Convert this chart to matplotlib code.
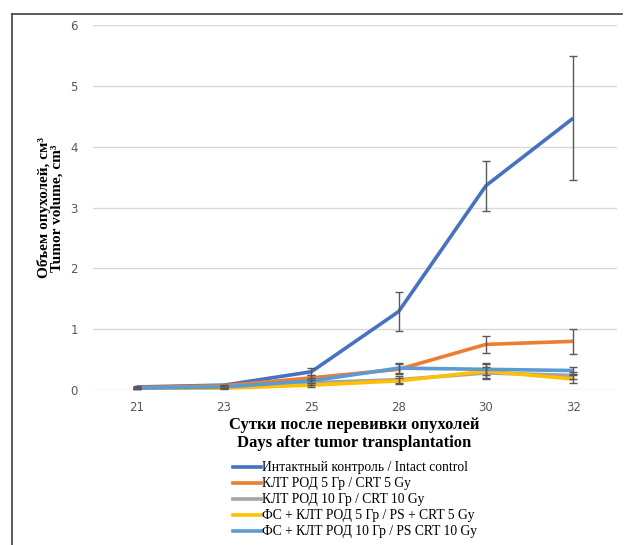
import numpy as np
import matplotlib.pyplot as plt
from matplotlib.lines import Line2D

# Data
days = ["21", "23", "25", "28", "30", "32"]

intact = [0.05, 0.08, 0.30, 1.29, 3.36, 4.47]
intact_err = [0.01, 0.01, 0.06, 0.32, 0.41, 1.02]

crt5 = [0.04, 0.07, 0.20, 0.34, 0.75, 0.80]
crt5_err = [0.01, 0.01, 0.04, 0.08, 0.14, 0.21]

crt10 = [0.03, 0.05, 0.12, 0.17, 0.28, 0.24]
crt10_err = [0.01, 0.01, 0.04, 0.06, 0.10, 0.06]

ps_crt5 = [0.02, 0.03, 0.08, 0.15, 0.31, 0.18]
ps_crt5_err = [0.01, 0.01, 0.03, 0.05, 0.12, 0.07]

ps_crt10 = [0.03, 0.05, 0.15, 0.36, 0.34, 0.32]
ps_crt10_err = [0.01, 0.01, 0.04, 0.08, 0.10, 0.06]

labels = [
    "Интактный контроль / Intact control",
    "КЛТ РОД 5 Гр / CRT 5 Gy",
    "КЛТ РОД 10 Гр / CRT 10 Gy",
    "ФС + КЛТ РОД 5 Гр / PS + CRT 5 Gy",
    "ФС + КЛТ РОД 10 Гр / PS CRT 10 Gy",
]
colors = ["#4472C4", "#ED7D31", "#A5A5A5", "#FFC000", "#5B9BD5"]

series = [intact, crt5, crt10, ps_crt5, ps_crt10]
errors = [intact_err, crt5_err, crt10_err, ps_crt5_err, ps_crt10_err]

fig = plt.figure(figsize=(6.26, 5.45), dpi=100)
ax = fig.add_axes([0.1486, 0.2844, 0.8370, 0.6697])

x = np.arange(len(days))
for vals, err, col in zip(series, errors, colors):
    ax.plot(x, vals, color=col, lw=2.6, solid_capstyle="butt", zorder=3)
    ax.errorbar(x, vals, yerr=err, fmt="none", ecolor="#595959",
                elinewidth=1.0, capsize=3, capthick=1.0, zorder=4)

ax.set_xlim(-0.5, len(days) - 0.5)
ax.set_ylim(0, 6)
ax.set_yticks(range(0, 7))
ax.set_xticks(x)
ax.set_xticklabels(days)
ax.grid(axis="y", color="#D9D9D9", lw=1.0, zorder=0)
ax.tick_params(length=0, labelsize=8.5, labelcolor="#595959", pad=11)
ax.tick_params(axis="x", pad=8)
for s in ax.spines.values():
    s.set_visible(False)

serif = "Liberation Serif"
fig.text(50 / 626, 1 - 208 / 545, "Объем опухолей, см³\nTumor volume, cm³",
         rotation=90, ha="center", va="center", family=serif,
         fontweight="bold", fontsize=11, linespacing=0.98)
fig.text(354 / 626, 1 - 434 / 545,
         "Сутки после перевивки опухолей\nDays after tumor transplantation",
         ha="center", va="center", family=serif, fontweight="bold",
         fontsize=12, linespacing=1.1)

handles = [Line2D([0], [0], color=c, lw=2.6) for c in colors]
fig.legend(handles, labels, loc="upper left",
           bbox_to_anchor=(228 / 626, 1 - 456 / 545), frameon=False,
           prop={"family": serif, "size": 9.8}, handlelength=2.0,
           handletextpad=0.1, labelspacing=0.22, borderaxespad=0)

# outer frame (top and left edges)
fig.add_artist(Line2D([12 / 626, 12 / 626], [0, 1 - 14 / 545],
                      transform=fig.transFigure, color="#404040", lw=1.2))
fig.add_artist(Line2D([12 / 626, 622 / 626], [1 - 14 / 545, 1 - 14 / 545],
                      transform=fig.transFigure, color="#404040", lw=1.2))

fig.savefig("out.png", dpi=100)
